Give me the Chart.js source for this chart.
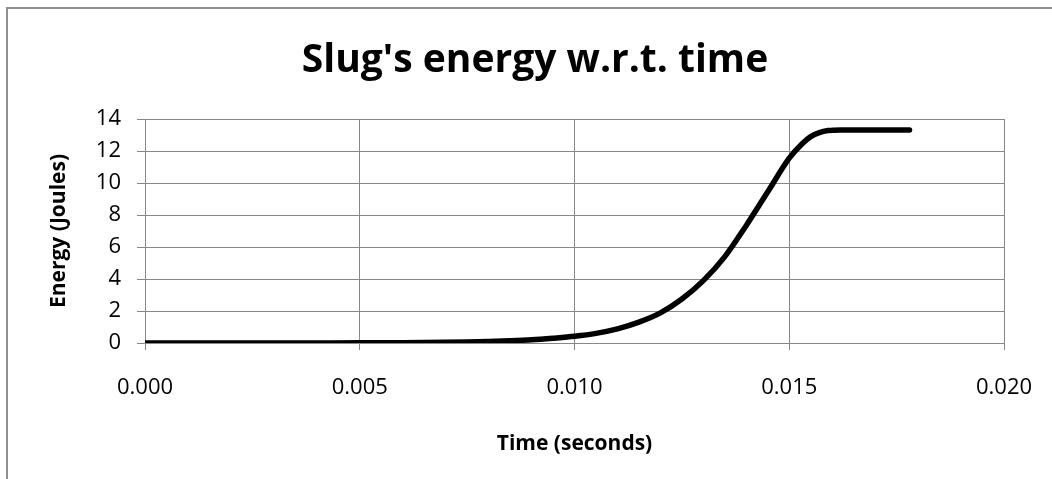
<!DOCTYPE html>
<html>
<head>
<meta charset="utf-8">
<script src="https://cdn.jsdelivr.net/npm/chart.js@4"></script>
<style>
  html, body { margin: 0; padding: 0; background: #fff; }
  #wrap { position: relative; width: 1052px; height: 479px; overflow: hidden; }
  #frame { position: absolute; left: 6px; top: 7px; right: -4px; bottom: -4px;
           border-left: 2px solid #8f8f8f; border-top: 2px solid #8f8f8f; pointer-events: none; }
  canvas { position: absolute; left: 0; top: 0; }
</style>
</head>
<body>
<div id="wrap">
  <canvas id="c" width="1052" height="479"></canvas>
  <div id="frame"></div>
</div>
<script>
const chartTitle = "Slug's energy w.r.t. time";
const xAxisTitle = "Time (seconds)";
const yAxisTitle = "Energy (Joules)";

const timeValues = [0, 0.001, 0.002, 0.003, 0.004, 0.005, 0.006, 0.007, 0.0075, 0.008, 0.0085, 0.009, 0.0095,
  0.010, 0.0105, 0.011, 0.0115, 0.012, 0.0125, 0.013, 0.0135, 0.014, 0.0145, 0.015, 0.0153, 0.0155,
  0.0157, 0.0159, 0.0162, 0.0170, 0.0178];
const energyValues = [0, 0, 0, 0.001, 0.003, 0.008, 0.02, 0.05, 0.07, 0.10, 0.14, 0.20, 0.30,
  0.42, 0.60, 0.88, 1.30, 1.88, 2.75, 3.90, 5.40, 7.35, 9.45, 11.55, 12.45, 12.90,
  13.15, 13.28, 13.32, 13.32, 13.32];

const xTickValues = [0, 0.005, 0.010, 0.015, 0.020];
const xTickLabels = ['0.000', '0.005', '0.010', '0.015', '0.020'];
const yTickValues = [0, 2, 4, 6, 8, 10, 12, 14];
const yTickLabels = ['0', '2', '4', '6', '8', '10', '12', '14'];

const points = timeValues.map((t, i) => ({ x: t, y: energyValues[i] }));
const gridColor = '#878787';
const fontFamily = "'Open Sans', sans-serif";

const titlePlugin = {
  id: 'chartTitleText',
  afterDraw(chart) {
    const ctx = chart.ctx;
    ctx.save();
    ctx.fillStyle = '#000';
    ctx.font = "bold 39px 'Open Sans', sans-serif";
    ctx.textAlign = 'center';
    ctx.textBaseline = 'alphabetic';
    ctx.fillText(chartTitle, 535, 72);
    ctx.restore();
  }
};

new Chart(document.getElementById('c'), {
  type: 'line',
  data: {
    datasets: [{
      data: points,
      borderColor: '#000',
      borderWidth: 5.5,
      borderCapStyle: 'round',
      borderJoinStyle: 'round',
      pointRadius: 0,
      cubicInterpolationMode: 'monotone',
      fill: false
    }]
  },
  options: {
    responsive: false,
    animation: false,
    layout: { padding: { left: 0, right: 48, top: 119, bottom: 0 } },
    plugins: {
      legend: { display: false },
      tooltip: { enabled: false },
      title: { display: false }
    },
    scales: {
      x: {
        type: 'linear',
        min: 0,
        max: 0.02,
        afterBuildTicks: (s) => { s.ticks = xTickValues.map(v => ({ value: v })); },
        afterFit: (s) => { s.height = 136; s.paddingLeft = 0; s.paddingRight = 0; },
        ticks: {
          color: '#000',
          font: { family: fontFamily, size: 22 },
          padding: 25,
          maxRotation: 0,
          autoSkip: false,
          callback: (v) => { const i = xTickValues.findIndex(t => Math.abs(t - v) < 1e-9); return i >= 0 ? xTickLabels[i] : ''; }
        },
        grid: { color: gridColor, lineWidth: 1, tickLength: 7, drawTicks: true },
        border: { color: gridColor, width: 1 },
        title: {
          display: true,
          text: xAxisTitle,
          color: '#000',
          font: { family: fontFamily, size: 21, weight: 'bold', lineHeight: 1.2 },
          padding: { top: 0, bottom: 22 }
        }
      },
      y: {
        type: 'linear',
        min: 0,
        max: 14,
        afterBuildTicks: (s) => { s.ticks = yTickValues.map(v => ({ value: v })); },
        afterFit: (s) => { s.width = 145; s.paddingTop = 0; s.paddingBottom = 0; },
        ticks: {
          color: '#000',
          font: { family: fontFamily, size: 22 },
          padding: 16,
          autoSkip: false,
          callback: (v) => { const i = yTickValues.indexOf(v); return i >= 0 ? yTickLabels[i] : ''; }
        },
        grid: { color: gridColor, lineWidth: 1, tickLength: 8, drawTicks: true },
        border: { color: gridColor, width: 1 },
        title: {
          display: true,
          text: yAxisTitle,
          color: '#000',
          font: { family: fontFamily, size: 21, weight: 'bold', lineHeight: 1.2 },
          padding: { top: 46, bottom: 0 }
        }
      }
    }
  },
  plugins: [titlePlugin]
});
</script>
</body>
</html>
